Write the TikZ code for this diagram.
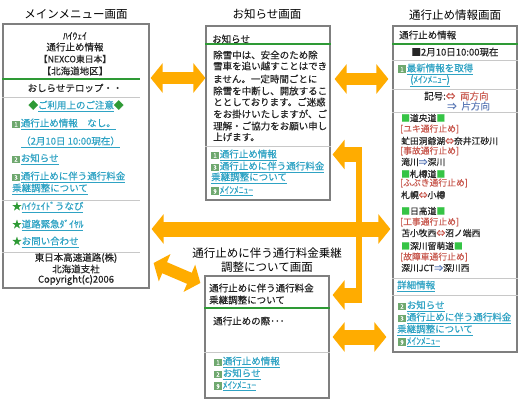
\documentclass[tikz,border=0pt]{standalone}
\usepackage{xcolor}
\usepackage{fontspec}
\setmainfont{Noto Sans CJK JP}
\newfontfamily\bodyfont{Noto Sans CJK JP}[FakeBold=0.35]
\usetikzlibrary{arrows.meta, calc}
\definecolor{flowcolor}{HTML}{FFAC00}
\definecolor{framecolor}{HTML}{7F7F7F}
\definecolor{rulecolor}{HTML}{C8C8C8}
\definecolor{greencolor}{HTML}{2E9A35}
\definecolor{squarecolor}{HTML}{35C445}
\definecolor{linkcolor}{HTML}{2FA3C4}
\definecolor{redcolor}{HTML}{C8584E}
\definecolor{bluecolor}{HTML}{5F7CB8}
\definecolor{iconcolor}{HTML}{6FA86F}
\newcommand{\keyicon}[1]{{\setlength{\fboxsep}{0.6pt}\colorbox{iconcolor}{\rule[-1pt]{0pt}{6.5pt}\makebox[6.4pt]{\color{white}\fontsize{6}{6}\selectfont #1}}}\hspace{1pt}}
\newcommand{\lnk}[1]{\textcolor{linkcolor}{\underline{#1}}}
\newcommand{\grn}[1]{\textcolor{greencolor}{#1}}
\newcommand{\sqr}{\textcolor{squarecolor}{■}}
\newcommand{\rdt}[1]{\textcolor{redcolor}{#1}}
\newcommand{\blt}[1]{\textcolor{bluecolor}{#1}}
\tikzset{
  panel/.style={draw=framecolor, line width=1.2pt, fill=white, inner sep=0pt, minimum width=#1},
  titletext/.style={font=\fontsize{11.5}{13}\selectfont, inner sep=0pt, text=black},
  bodytext/.style={font=\bodyfont\fontsize{9.5}{11}\selectfont, inner sep=0pt, text=black!85, anchor=west},
  listtext/.style={font=\bodyfont\fontsize{8.8}{11}\selectfont, inner sep=0pt, text=black!85, anchor=west},
  centertext/.style={font=\bodyfont\fontsize{9.5}{11}\selectfont, inner sep=0pt, text=black!85},
  greenrule/.style={draw=greencolor, line width=1.2pt},
  grayrule/.style={draw=rulecolor, line width=1pt},
  flowboth/.style={draw=flowcolor, line width=12pt, {Triangle[width=29pt, length=12pt]}-{Triangle[width=29pt, length=12pt]}},
  flowone/.style={draw=flowcolor, line width=15pt, -{Triangle[width=29pt, length=12pt]}},
  flowbar/.style={draw=flowcolor, line width=6pt},
}
\begin{document}
\begin{tikzpicture}[x=1pt, y=-1pt]
  \useasboundingbox[fill=white] (0,0) rectangle (520,400);
  % screens
  \node[panel=146pt, minimum height=264pt] (menu) at (76,156) {};
  \node[panel=124pt, minimum height=174pt] (notice) at (268,113) {};
  \node[panel=124pt, minimum height=326pt] (closure) at (455,189) {};
  \node[panel=124pt, minimum height=122pt] (toll) at (267,337) {};
  % titles
  \node[titletext] (menutitle) at (76,14) {メインメニュー画面};
  \node[titletext] (noticetitle) at (267,14) {お知らせ画面};
  \node[titletext] (closuretitle) at (455,15) {通行止め情報画面};
  \node[titletext] (tolltitle1) at (267,253) {通行止めに伴う通行料金乗継};
  \node[titletext] (tolltitle2) at (267,267) {調整について画面};
  % rules
  \draw[greenrule] (menu.west |- 0,79) -- (140,79);
  \draw[grayrule] (menu.west |- 0,97) -- (140,97);
  \draw[grayrule] (menu.west |- 0,200) -- (140,200);
  \draw[grayrule] (menu.west |- 0,252) -- (140,252);
  \draw[greenrule] (notice.west |- 0,44) -- (notice.east |- 0,44);
  \draw[grayrule] (notice.west |- 0,146) -- (notice.east |- 0,146);
  \draw[greenrule] (closure.west |- 0,44) -- (closure.east |- 0,44);
  \draw[grayrule] (closure.west |- 0,60) -- (closure.east |- 0,60);
  \draw[grayrule] (closure.west |- 0,89) -- (closure.east |- 0,89);
  \draw[grayrule] (closure.west |- 0,112) -- (closure.east |- 0,112);
  \draw[grayrule] (closure.west |- 0,278) -- (closure.east |- 0,278);
  \draw[grayrule] (closure.west |- 0,295) -- (closure.east |- 0,295);
  \draw[greenrule] (toll.west |- 0,308) -- (toll.east |- 0,308);
  \draw[grayrule] (toll.west |- 0,352) -- (toll.east |- 0,352);
  % main menu
  \node[centertext] (m1) at (75,36) {ﾊｲｳｪｲ};
  \node[centertext] (m2) at (75,47) {通行止め情報};
  \node[centertext, font=\bodyfont\fontsize{8.8}{11}\selectfont] (m3) at (75,59) {【NEXCO東日本】};
  \node[centertext] (m4) at (75,71) {【北海道地区】};
  \node[centertext] (m5) at (75,88) {おしらせテロップ・・};
  \node[centertext] (m6) at (76,106) {\grn{◆}\lnk{ご利用上のご注意}\grn{◆}};
  \node[bodytext] (m7) at (12,124) {\keyicon{1}\lnk{通行止め情報\quad なし。}};
  \node[bodytext] (m8) at (21,142) {\lnk{（2月10日 10:00現在）}};
  \node[bodytext] (m9) at (12,159) {\keyicon{2}\lnk{お知らせ}};
  \node[bodytext] (m10) at (12,177) {\keyicon{3}\lnk{通行止めに伴う通行料金}};
  \node[bodytext] (m11) at (12,189) {\lnk{乗継調整について}};
  \node[bodytext] (m12) at (12,207) {\grn{★}\lnk{ﾊｲｳｪｲﾄﾞうなび}};
  \node[bodytext] (m13) at (12,225) {\grn{★}\lnk{道路緊急ﾀﾞｲﾔﾙ}};
  \node[bodytext] (m14) at (12,242) {\grn{★}\lnk{お問い合わせ}};
  \node[centertext] (m15) at (76,258) {東日本高速道路(株)};
  \node[centertext] (m16) at (76,269) {北海道支社};
  \node[centertext] (m17) at (76,280) {Copyright(c)2006};
  % notice
  \node[bodytext] (n1) at (212,39) {お知らせ};
  \node[bodytext] (n2) at (213,55) {除雪中は、安全のため除};
  \node[bodytext] (n3) at (213,66) {雪車を追い越すことはでき};
  \node[bodytext] (n4) at (213,79) {ません。一定時間ごとに};
  \node[bodytext] (n5) at (213,91) {除雪を中断し、開放するこ};
  \node[bodytext] (n6) at (213,102) {ととしております。ご迷惑};
  \node[bodytext] (n7) at (213,114) {をお掛けいたしますが、ご};
  \node[bodytext] (n8) at (213,126) {理解・ご協力をお願い申し};
  \node[bodytext] (n9) at (213,137) {上げます。};
  \node[bodytext] (n10) at (211,155) {\keyicon{1}\lnk{通行止め情報}};
  \node[bodytext] (n11) at (211,167) {\keyicon{3}\lnk{通行止めに伴う通行料金}};
  \node[bodytext] (n12) at (211,178) {\lnk{乗継調整について}};
  \node[bodytext] (n13) at (211,191) {\keyicon{9}\lnk{ﾒｲﾝﾒﾆｭｰ}};
  % closure
  \node[bodytext] (c1) at (399,35) {通行止め情報};
  \node[centertext] (c2) at (455,52) {■2月10日10:00現在};
  \node[bodytext] (c3) at (398,69) {\keyicon{1}\lnk{最新情報を取得}};
  \node[bodytext] (c4) at (410,81) {\lnk{(ﾒｲﾝﾒﾆｭｰ)}};
  \node[bodytext] (c5) at (424,96) {記号:\rdt{⇔\enspace 両方向}};
  \node[bodytext] (c6) at (447,106) {\blt{⇒\enspace 片方向}};
  \node[listtext] (c7) at (401,118) {\sqr 道央道\sqr};
  \node[listtext] (c8) at (400,129) {\rdt{[ユキ通行止め]}};
  \node[listtext] (c9) at (401,141) {虻田洞爺湖\rdt{⇔}奈井江砂川};
  \node[listtext] (c10) at (400,151) {\rdt{[事故通行止め]}};
  \node[listtext] (c11) at (401,162) {滝川\blt{⇒}深川};
  \node[listtext] (c12) at (401,174) {\sqr 札樽道\sqr};
  \node[listtext] (c13) at (400,183) {\rdt{[ふぶき通行止め]}};
  \node[listtext] (c14) at (401,195) {札幌\rdt{⇔}小樽};
  \node[listtext] (c15) at (401,211) {\sqr 日高道\sqr};
  \node[listtext] (c16) at (400,222) {\rdt{[工事通行止め]}};
  \node[listtext] (c17) at (401,233) {苫小牧西\rdt{⇔}沼ノ端西};
  \node[listtext] (c18) at (401,246) {\sqr 深川留萌道\sqr};
  \node[listtext] (c19) at (400,257) {\rdt{[故障車通行止め]}};
  \node[listtext] (c20) at (401,268) {深川JCT\blt{⇒}深川西};
  \node[bodytext] (c21) at (397,286) {\lnk{詳細情報}};
  \node[bodytext] (c22) at (398,306) {\keyicon{2}\lnk{お知らせ}};
  \node[bodytext] (c23) at (398,318) {\keyicon{3}\lnk{通行止めに伴う通行料金}};
  \node[bodytext] (c24) at (397,330) {\lnk{乗継調整について}};
  \node[bodytext] (c25) at (398,342) {\keyicon{9}\lnk{ﾒｲﾝﾒﾆｭｰ}};
  % toll
  \node[bodytext] (t1) at (209,288) {通行止めに伴う通行料金};
  \node[bodytext] (t2) at (209,300) {乗継調整について};
  \node[bodytext] (t3) at (213,321) {通行止めの際･･･};
  \node[bodytext] (t4) at (214,362) {\keyicon{1}\lnk{通行止め情報}};
  \node[bodytext] (t5) at (214,374) {\keyicon{2}\lnk{お知らせ}};
  \node[bodytext] (t6) at (214,386) {\keyicon{9}\lnk{ﾒｲﾝﾒﾆｭｰ}};
  % flows
  \draw[flowboth] (menu.east |- 0,78) ++(1,0) -- (notice.west |- 0,78);
  \draw[flowboth] ($(notice.east |- 0,79)+(4,0)$) -- ($(closure.west |- 0,79)+(-4,0)$);
  \draw[flowboth, line width=15pt] ($(menu.east |- 0,229)+(2,0)$) -- ($(closure.west |- 0,229)+(-2,0)$);
  \draw[flowboth] ($(menu.east |- 0,263)+(4,0)$) -- ($(toll.west |- 0,283)+(-4,0)$);
  \draw[flowboth, line width=15pt] ($(toll.east |- 0,337)+(3,0)$) -- ($(closure.west |- 0,337)+(-6,0)$);
  \draw[flowbar] (359,147) -- (359,302);
  \draw[flowone] (362,154.5) -- ($(notice.east |- 0,154.5)+(2,0)$);
  \draw[flowone] (362,295) -- ($(toll.east |- 0,295)+(3,0)$);
\end{tikzpicture}
\end{document}
